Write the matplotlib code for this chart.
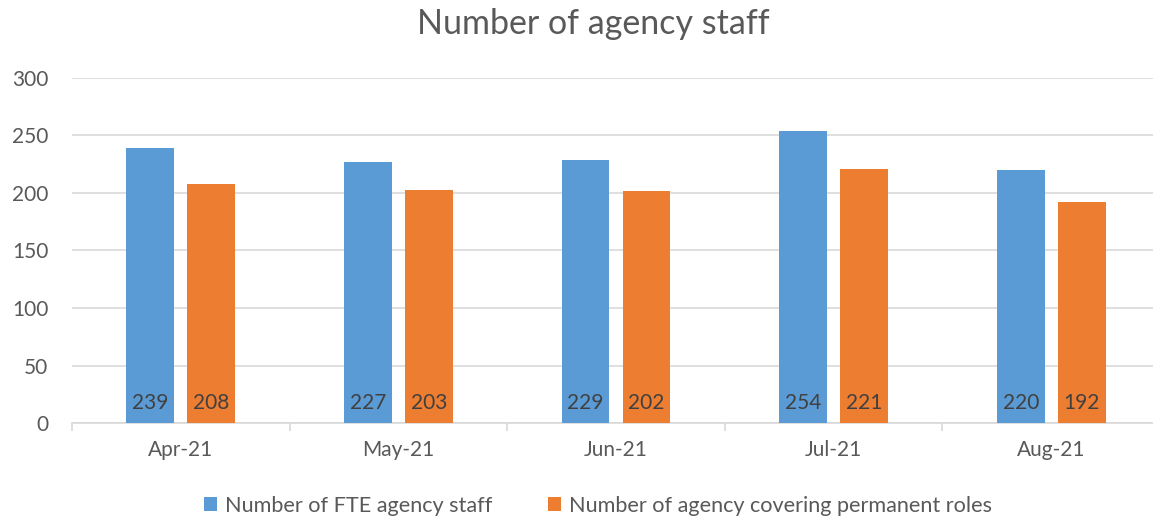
import matplotlib.pyplot as plt
import numpy as np

plt.rcParams['font.family'] = ['Lato', 'DejaVu Sans']

months = ['Apr-21', 'May-21', 'Jun-21', 'Jul-21', 'Aug-21']
fte_staff = [239, 227, 229, 254, 220]
covering_perm = [208, 203, 202, 221, 192]
labels = ['Number of FTE agency staff', 'Number of agency covering permanent roles']

fig = plt.figure(figsize=(11.53, 5.19), dpi=100)
ax = fig.add_axes([72/1153, 96/519, 1088/1153, 345/519])

x = np.arange(len(months))
w = 0.22
b1 = ax.bar(x - 0.14, fte_staff, w, color='#5B9BD5', label=labels[0], zorder=3)
b2 = ax.bar(x + 0.14, covering_perm, w, color='#ED7D31', label=labels[1], zorder=3)

for bars in (b1, b2):
    for r in bars:
        ax.annotate(str(int(r.get_height())), (r.get_x() + r.get_width()/2, 0),
                    xytext=(0, 7), textcoords='offset points', ha='center', va='bottom',
                    fontsize=15, color='#404040', zorder=4)

ax.set_xlim(-0.5, len(months) - 0.5)
ax.set_ylim(0, 300)
ax.set_yticks(range(0, 301, 50))
ax.set_xticks(x)
ax.set_xticklabels(months)
ax.set_xticks(np.arange(len(months) + 1) - 0.5, minor=True)
ax.tick_params(axis='x', which='major', length=0, pad=12, labelsize=15, labelcolor='#595959')
ax.tick_params(axis='x', which='minor', length=6, color='#D9D9D9', width=1.2)
ax.tick_params(axis='y', length=0, pad=17, labelsize=15, labelcolor='#595959')
ax.grid(axis='y', color='#D9D9D9', linewidth=1.2, zorder=0)
for s in ['top', 'right', 'left']:
    ax.spines[s].set_visible(False)
ax.spines['bottom'].set_color('#D9D9D9')
ax.spines['bottom'].set_linewidth(1.2)

fig.suptitle('Number of agency staff', x=593/1153, y=0.985, fontsize=24.5, color='#595959')
fig.legend(loc='center', bbox_to_anchor=(598/1153, 13/519), ncol=2, frameon=False,
           fontsize=15.6, labelcolor='#595959', handlelength=0.6, handleheight=0.6,
           handletextpad=0.35, columnspacing=2.6)

fig.savefig('out.png', dpi=100)
